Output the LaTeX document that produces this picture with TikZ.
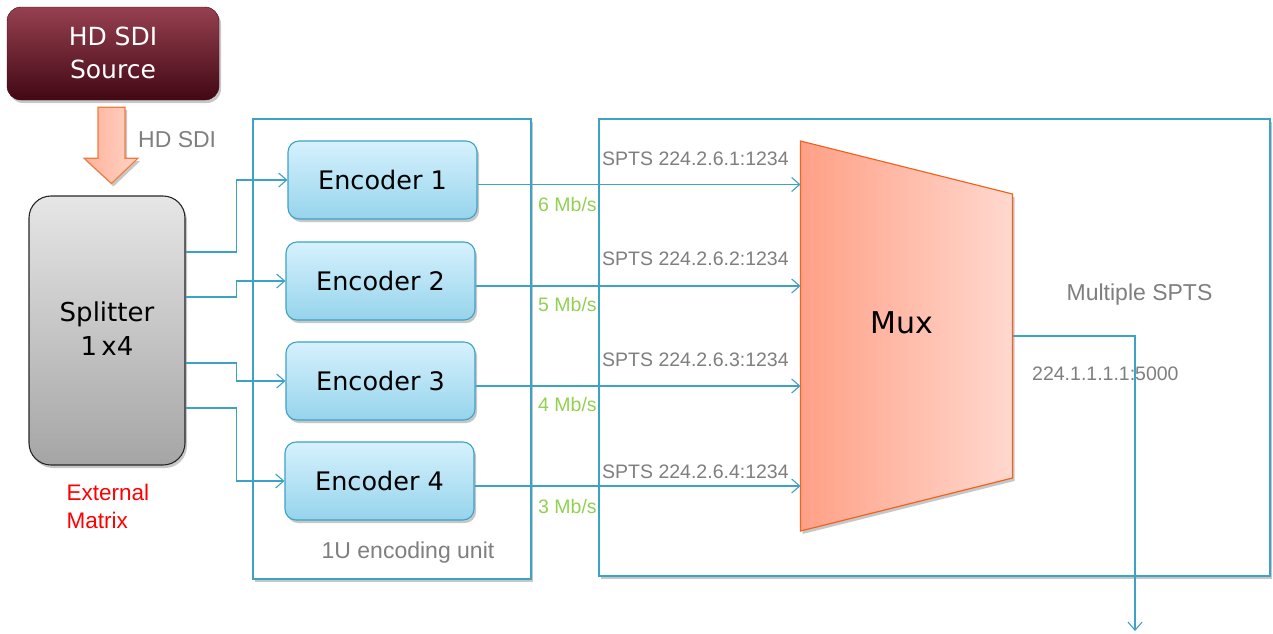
\documentclass[tikz,border=0pt]{standalone}
\usepackage{fontspec}
\setmainfont{Liberation Sans}
\newfontfamily\boxfont{DejaVu Sans}
\usetikzlibrary{arrows.meta,shadows,calc}

\definecolor{linkblue}{RGB}{60,162,198}
\definecolor{encTop}{RGB}{214,241,253}
\definecolor{encBot}{RGB}{150,212,236}
\definecolor{srcTop}{RGB}{150,64,80}
\definecolor{srcBot}{RGB}{66,8,20}
\definecolor{splTop}{RGB}{230,230,230}
\definecolor{splBot}{RGB}{165,165,165}
\definecolor{muxLeft}{RGB}{255,160,134}
\definecolor{muxRight}{RGB}{255,216,206}
\definecolor{muxLine}{RGB}{240,100,34}
\definecolor{arrLeft}{RGB}{255,178,154}
\definecolor{arrRight}{RGB}{255,212,198}
\definecolor{arrLine}{RGB}{244,122,60}
\definecolor{labelgray}{RGB}{127,127,127}
\definecolor{rategreen}{RGB}{146,208,80}

\tikzset{
  softshadow/.style={drop shadow={shadow xshift=2pt, shadow yshift=-3pt, opacity=.22, fill=black}},
  unitbox/.style={draw=linkblue, line width=1.2pt, fill=white, softshadow},
  encbox/.style={draw=linkblue, line width=1.1pt, rounded corners=11pt,
    top color=encTop, bottom color=encBot, minimum width=189pt, minimum height=78pt,
    inner sep=0pt, font=\boxfont\fontsize{25.5}{29}\selectfont, softshadow},
  conn/.style={draw=linkblue, line width=1.1pt, -{Straight Barb[length=8pt,width=14pt,line width=1.1pt]}},
  glabel/.style={text=labelgray, inner sep=0pt, font=\fontsize{19.5}{22}\selectfont},
  rlabel/.style={text=rategreen, inner sep=0pt, font=\fontsize{19.5}{22}\selectfont},
  biglabel/.style={text=labelgray, inner sep=0pt, font=\fontsize{23}{26}\selectfont}
}

\begin{document}
\begin{tikzpicture}[x=1pt,y=-1pt]
\useasboundingbox (0,0) rectangle (1273,633);

% enclosing units
\node[unitbox, minimum width=278pt, minimum height=460pt, inner sep=0pt] (unit) at (392,349) {};
\node[unitbox, minimum width=671pt, minimum height=457pt, inner sep=0pt] (muxunit) at (934.5,347.5) {};

% source and splitter
\node[rounded corners=14pt, top color=srcTop, bottom color=srcBot, draw=srcBot,
      minimum width=212pt, minimum height=93pt, inner sep=0pt, align=center,
      text=white, font=\boxfont\fontsize{25}{33}\selectfont, softshadow]
      (src) at (113,53.5) {\raisebox{2pt}{HD SDI}\\\raisebox{2pt}{Source}};
\node[rounded corners=22pt, top color=splTop, bottom color=splBot, draw=black!85,
      line width=1.1pt, minimum width=156pt, minimum height=269pt, inner sep=0pt,
      align=center, font=\boxfont\fontsize{26}{34}\selectfont, softshadow]
      (split) at (107,330.5) {\raisebox{3pt}{Splitter}\\\raisebox{3pt}{1\,x4}};

% wide feed arrow from the source into the splitter
\path[draw=arrLine, line width=1.1pt, left color=arrLeft, right color=arrRight, softshadow]
  ($(src.south)+(-15,7)$) -- ($(src.south)+(12,7)$) -- ($(src.south)+(12,58)$)
  -- ($(src.south)+(25,58)$) -- ($(split.north)+(4.5,-12)$)
  -- ($(src.south)+(-29,58)$) -- ($(src.south)+(-15,58)$) -- cycle;
\node[biglabel, anchor=west] (sdi) at (138,139.5) {HD SDI};

\node[text=red, inner sep=0pt, anchor=north west, align=left,
      font=\fontsize{22.5}{28}\selectfont] (ext) at (66.5,484) {External\\Matrix};

% encoders
\node[encbox] (enc1) at (382.5,180) {Encoder 1};
\node[encbox] (enc2) at (380.5,281) {Encoder 2};
\node[encbox] (enc3) at (380.5,381) {Encoder 3};
\node[encbox] (enc4) at (379.5,481) {Encoder 4};
\node[biglabel] (unitlbl) at (408,553) {1U encoding unit};

% multiplexer
\coordinate (mtl) at (800.5,141);
\coordinate (mtr) at (1012.5,194);
\coordinate (mbr) at (1012.5,478);
\coordinate (mbl) at (800.5,531);
\path[draw=muxLine, line width=1.2pt, left color=muxLeft, right color=muxRight, softshadow]
  (mtl) -- (mtr) -- (mbr) -- (mbl) -- cycle;
\node[inner sep=0pt, font=\boxfont\fontsize{30}{34}\selectfont] (mux) at (901.5,323) {Mux};
\node[biglabel] (multi) at (1139.5,295) {Multiple SPTS};

% splitter outputs to the encoders
\draw[conn] ($(split.east)+(0,-78.5)$) -- ++(51,0) |- (enc1.west);
\draw[conn] ($(split.east)+(0,-33.5)$) -- ++(51,0) |- (enc2.west);
\draw[conn] ($(split.east)+(0,32.5)$) -- ++(51,0) |- (enc3.west);
\draw[conn] ($(split.east)+(0,77.5)$) -- ++(51,0) |- (enc4.west);

% encoder streams into the multiplexer
\draw[conn] ($(enc1.east)+(0,4.5)$) coordinate (o1) -- (o1 -| mtl);
\draw[conn] ($(enc2.east)+(0,5)$) coordinate (o2) -- (o2 -| mtl);
\draw[conn] ($(enc3.east)+(0,5)$) coordinate (o3) -- (o3 -| mtl);
\draw[conn] ($(enc4.east)+(0,5)$) coordinate (o4) -- (o4 -| mtl);

\node[glabel, anchor=west] (s1) at (602,159) {SPTS 224.2.6.1:1234};
\node[glabel, anchor=west] (s2) at (602,259) {SPTS 224.2.6.2:1234};
\node[glabel, anchor=west] (s3) at (602,360) {SPTS 224.2.6.3:1234};
\node[glabel, anchor=west] (s4) at (602,472) {SPTS 224.2.6.4:1234};

\node[rlabel, anchor=west] (r1) at (538,205) {6 Mb/s};
\node[rlabel, anchor=west] (r2) at (538,305) {5 Mb/s};
\node[rlabel, anchor=west] (r3) at (538,405) {4 Mb/s};
\node[rlabel, anchor=west] (r4) at (538,507) {3 Mb/s};

% multiplexed output
\coordinate (mout) at (1012.5,336);
\coordinate (outend) at (1135,631);
\draw[conn] (mout) -| (outend);
\node[glabel, anchor=west] (addr) at (1032,374) {224.1.1.1.1:5000};
\end{tikzpicture}
\end{document}
